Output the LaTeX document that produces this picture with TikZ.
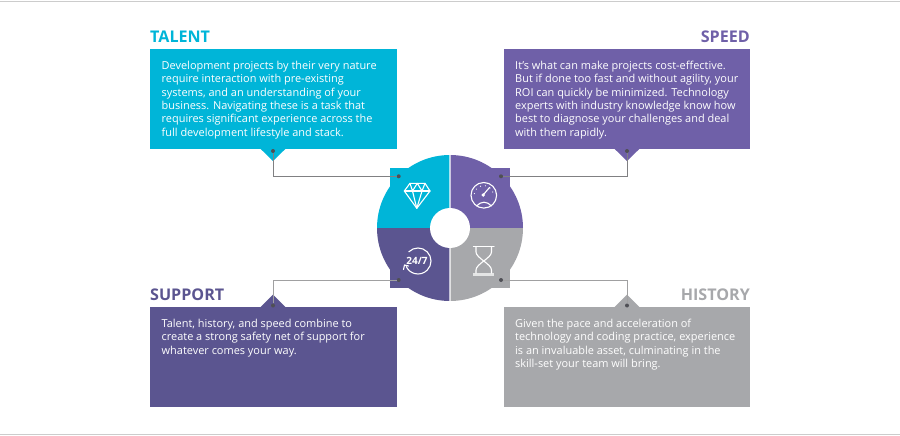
\documentclass[tikz,border=0pt]{standalone}
\usepackage{fontspec}
\usepackage{xcolor}
\usepackage{tikz}
\usetikzlibrary{positioning, calc, arrows.meta}
\setmainfont{Open Sans}
\definecolor{TalentBlue}{HTML}{00B5D8}
\definecolor{SpeedPurple}{HTML}{6F60A8}
\definecolor{SupportIndigo}{HTML}{5B5590}
\definecolor{HistoryGray}{HTML}{A7A8AB}
\definecolor{LinkGray}{HTML}{808082}
\definecolor{PinDark}{HTML}{4F4F55}
\definecolor{RuleGray}{HTML}{CCCCCC}

\begin{document}
\begin{tikzpicture}[x=1pt, y=-1pt, >=Stealth]
      \tikzset{
        panel/.style={rectangle, draw=none, minimum width=246.5pt, minimum height=100pt, inner sep=0pt, anchor=north west},
        copytext/.style={anchor=north west, inner sep=0pt, align=left, text=white, font=\fontsize{10.95}{13.35}\selectfont},
        heading/.style={inner sep=0pt, font=\fontsize{16.1}{17}\selectfont\bfseries},
        pin/.style={circle, fill=PinDark, inner sep=0pt, minimum size=4pt},
        link/.style={draw=LinkGray, line width=1pt},
        lowlink/.style={draw=LinkGray!75, line width=1pt},
        icon/.style={draw=white, line width=1.1pt, line join=round, line cap=round},
        hub/.style={circle, fill=white, inner sep=0pt, minimum size=40pt}
      }
      \useasboundingbox (0,0) rectangle (900,436);
      \draw[RuleGray] (0,1) -- (900,1);
      \draw[RuleGray] (0,434) -- (900,434);

      % Panels with their pointers
      \node[panel, fill=TalentBlue] (talentbox) at (150,49) {};
      \node[panel, fill=SpeedPurple] (speedbox) at (503.5,49) {};
      \node[panel, fill=SupportIndigo] (supportbox) at (150,307) {};
      \node[panel, fill=HistoryGray] (historybox) at (503.5,307) {};
      \fill[TalentBlue] (260.7,149) -- (273,161) -- (285.3,149) -- cycle;
      \fill[SpeedPurple] (614.7,149) -- (627,161) -- (639.3,149) -- cycle;
      \fill[SupportIndigo] (260.7,307) -- (273,294.5) -- (285.3,307) -- cycle;
      \fill[HistoryGray] (614.7,307) -- (627,294.5) -- (639.3,307) -- cycle;

      \node[heading, text=TalentBlue, anchor=south west] (talenttitle) at (150,42.5) {TALENT};
      \node[heading, text=SpeedPurple, anchor=south east] (speedtitle) at (750,42.5) {SPEED};
      \node[heading, text=SupportIndigo, anchor=south west] (supporttitle) at (150,300.5) {SUPPORT};
      \node[heading, text=HistoryGray, anchor=south east] (historytitle) at (750,300.5) {HISTORY};

      \node[copytext] (talenttext) at (161.5,61) {Development projects by their very nature\\require interaction with pre-existing\\systems, and an understanding of your\\business. Navigating these is a task that\\requires significant experience across the\\full development lifestyle and stack.};
      \node[copytext] (speedtext) at (515,61) {It’s what can make projects cost-effective.\\But if done too fast and without agility, your\\ROI can quickly be minimized. Technology\\experts with industry knowledge know how\\best to diagnose your challenges and deal\\with them rapidly.};
      \node[copytext] (supporttext) at (161.5,319) {Talent, history, and speed combine to\\create a strong safety net of support for\\whatever comes your way.};
      \node[copytext] (historytext) at (515,319) {Given the pace and acceleration of\\technology and coding practice, experience\\is an invaluable asset, culminating in the\\skill-set your team will bring.};

      % Quarters of the wheel
      \foreach \col/\sx/\sy in {TalentBlue/-1/-1, SpeedPurple/1/-1, SupportIndigo/-1/1, HistoryGray/1/1}{
        \begin{scope}
          \clip ($(450,228)+(\sx*0.6,\sy*0.6)$) rectangle ($(450,228)+(\sx*80,\sy*80)$);
          \fill[\col] (450,228) circle[radius=73];
          \fill[\col] ($(450,228)+(\sx*60,\sy*60)$) rectangle ($(450,228)+(\sx*20,\sy*20)$);
        \end{scope}
      }
      \node[hub] (wheelhub) at (450,228) {};

      \node[pin] (talentpin) at (273,151) {};
      \node[pin] (speedpin) at (627,151) {};
      \node[pin] (supportpin) at (273,305.5) {};
      \node[pin] (historypin) at (627,305.5) {};
      \node[pin] (talentend) at (398.7,176.3) {};
      \node[pin] (speedend) at (501,176.3) {};
      \node[pin] (supportend) at (398.7,280) {};
      \node[pin] (historyend) at (501,280) {};

      \draw[link] (talentpin) |- (talentend);
      \draw[link] (speedpin) |- (speedend);
      \draw[lowlink] (supportpin) |- (supportend);
      \draw[lowlink] (historypin) |- (historyend);

      % Diamond
      \draw[icon] (410,183.3) -- (425,183.3) -- (430,191) -- (416.8,208.3) -- (404.3,191) -- cycle;
      \draw[icon] (404.3,191) -- (430,191);
      \draw[icon] (410,183.3) -- (412.5,191) -- (417.3,183.3) -- (422,191) -- (425,183.3);
      \draw[icon] (412.5,191) -- (416.8,208.3) -- (422,191);

      % Gauge
      \draw[icon] (483.8,195.3) circle[radius=12.8];
      \draw[icon] (476.5,206) .. controls (481,201) and (487,201) .. (491.5,206);
      \draw[icon] (483.3,194.8) -- (489.5,187.5);
      \fill[white] (483.3,195) circle[radius=1.9];
      \foreach \a in {-170,-140,...,-10}{
        \fill[white] ($(483.8,195.3)+(\a:9.6)$) circle[radius=0.6];
      }

      % 24/7
      \node[inner sep=0pt, text=white, font=\fontsize{10}{12}\selectfont\bfseries] (clocklabel) at (417,260.5) {24/7};
      \draw[icon] (418,261) ++(-135:13) arc[start angle=-135, end angle=155, radius=13];
      \draw[icon] (403.5,269.5) -- (404.5,265) -- (408.5,266);

      % Hourglass
      \draw[icon] (473.5,246.5) -- (494,246.5);
      \fill[white, opacity=0.7] (473.3,273) rectangle (494.3,276);
      \draw[icon] (476,247) -- (476,252) .. controls (476,258) and (491.5,264) .. (491.5,270) -- (491.5,273);
      \draw[icon] (491.5,247) -- (491.5,252) .. controls (491.5,258) and (476,264) .. (476,270) -- (476,273);
    \end{tikzpicture}
\end{document}
